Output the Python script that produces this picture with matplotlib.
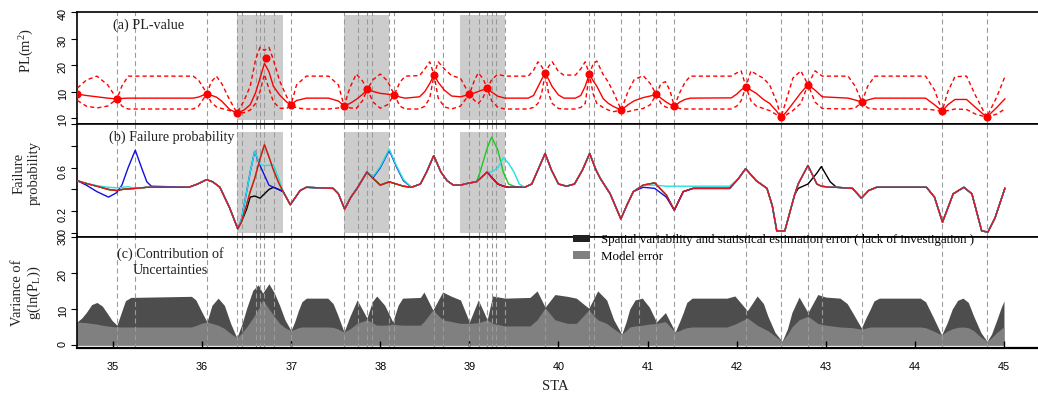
import matplotlib
matplotlib.use('Agg')
import matplotlib.pyplot as plt
from matplotlib.patches import Patch

plt.rcParams['font.family'] = 'Liberation Serif'
plt.rcParams['mathtext.fontset'] = 'custom'
plt.rcParams['mathtext.rm'] = 'Liberation Serif'
plt.rcParams['mathtext.it'] = 'Liberation Serif:italic'

# ---------------- data ----------------
obs_sta = [35.045, 35.247, 36.055, 36.392, 36.448, 36.605, 36.650, 36.695, 36.807, 36.998,
           37.593, 37.750, 37.851, 37.907, 38.098, 38.154, 38.603, 38.704, 38.996, 39.108,
           39.198, 39.254, 39.299, 39.400, 39.848, 40.342, 40.398, 40.701, 40.903, 41.094,
           41.291, 42.104, 42.497, 42.800, 42.957, 43.406, 44.304, 44.809]
shade_start = [36.39, 37.595, 38.898]
shade_end = [36.905, 38.10, 39.40]

# (a) PL-value
sta_a = [34.60, 34.70, 34.82, 34.94, 35.045, 35.10, 35.17, 35.90, 35.96, 36.055,
         36.10, 36.16, 36.22, 36.31, 36.392, 36.47, 36.54, 36.60, 36.65, 36.70,
         36.75, 36.80, 36.87, 36.95, 36.998, 37.06, 37.17, 37.42, 37.53, 37.593,
         37.66, 37.73, 37.80, 37.854, 37.92, 38.00, 38.08, 38.157, 38.22, 38.28,
         38.44, 38.50, 38.555, 38.603, 38.65, 38.72, 38.80, 38.90, 38.999, 39.06,
         39.10, 39.15, 39.201, 39.25, 39.32, 39.40, 39.66, 39.72, 39.77, 39.81,
         39.852, 39.89, 39.93, 40.00, 40.06, 40.19, 40.25, 40.30, 40.346, 40.39,
         40.43, 40.50, 40.56, 40.62, 40.705, 40.78, 40.85, 40.95, 41.03, 41.098,
         41.15, 41.20, 41.25, 41.30, 41.36, 41.42, 41.48, 41.94, 42.00, 42.05,
         42.104, 42.16, 42.22, 42.30, 42.37, 42.45, 42.497, 42.55, 42.63, 42.72,
         42.80, 42.88, 42.96, 43.25, 43.33, 43.406, 43.47, 43.55, 44.12, 44.22,
         44.307, 44.37, 44.45, 44.58, 44.68, 44.806, 44.92, 45.01]
pl_mean = [9.0, 8.5, 8.0, 7.5, 7.2, 7.4, 7.5, 7.5, 7.9, 9.2,
           8.6, 7.9, 6.4, 3.2, 1.9, 3.0, 5.0, 9.5, 15.0, 20.6,
           17.5, 12.0, 8.7, 6.0, 5.0, 6.6, 7.5, 7.5, 6.4, 4.6,
           5.5, 7.0, 8.9, 10.8, 10.0, 9.3, 9.0, 8.8, 7.9, 7.5,
           8.0, 10.0, 13.0, 16.3, 13.5, 10.5, 8.3, 8.0, 8.9, 9.5,
           10.0, 10.6, 11.2, 9.8, 8.2, 7.5, 7.5, 8.5, 11.8, 14.5,
           17.0, 14.5, 11.8, 8.7, 7.5, 7.5, 8.5, 12.0, 16.6, 14.0,
           12.0, 7.4, 5.5, 4.3, 3.0, 5.0, 6.5, 7.7, 8.3, 8.9,
           7.5, 6.2, 5.2, 4.4, 6.0, 7.0, 7.5, 7.6, 9.0, 10.6,
           11.8, 10.5, 9.3, 7.0, 5.5, 2.5, 0.3, 2.0, 5.5, 9.5,
           12.6, 10.5, 8.0, 7.5, 6.8, 6.0, 6.8, 7.5, 7.5, 5.0,
           2.6, 5.0, 7.0, 7.0, 4.0, 0.3, 4.0, 7.2]
pl_upper = [11.3, 14.3, 15.8, 12.5, 7.2, 12.1, 15.8, 15.8, 14.3, 9.2,
            13.5, 15.8, 13.0, 6.8, 1.9, 6.5, 12.0, 22.0, 26.7, 25.5,
            26.7, 22.0, 14.0, 8.0, 5.0, 12.5, 15.8, 15.8, 12.5, 4.6,
            11.5, 16.6, 14.0, 10.8, 14.5, 16.6, 14.0, 8.8, 13.5, 15.8,
            16.0, 18.5, 21.2, 16.3, 21.2, 18.5, 16.0, 15.0, 8.9, 14.5,
            17.0, 15.0, 11.2, 14.5, 16.5, 15.8, 15.8, 18.0, 21.2, 19.5,
            17.0, 19.5, 21.2, 17.5, 16.2, 16.2, 18.5, 21.2, 16.6, 20.5,
            21.5, 16.5, 13.5, 9.5, 3.0, 10.0, 14.5, 16.0, 13.0, 8.9,
            13.0, 13.7, 10.5, 4.4, 9.5, 13.5, 15.8, 15.8, 17.0, 17.8,
            11.8, 17.8, 16.5, 15.0, 12.5, 6.0, 0.3, 6.0, 15.0, 17.8,
            12.6, 17.8, 15.8, 15.8, 12.0, 6.0, 12.0, 15.8, 15.8, 10.6,
            2.6, 10.0, 15.6, 15.8, 8.5, 0.3, 8.0, 15.6]
pl_lower = [6.6, 4.5, 3.8, 4.5, 7.2, 4.5, 3.4, 3.4, 4.5, 9.2,
            6.0, 4.2, 3.6, 2.8, 1.9, 2.0, 3.0, 5.5, 10.0, 16.5,
            11.0, 6.2, 3.7, 3.6, 5.0, 3.8, 3.4, 3.4, 3.8, 4.6,
            3.8, 3.6, 6.5, 10.8, 6.0, 3.7, 5.0, 8.8, 4.5, 3.4,
            3.4, 4.5, 7.5, 16.3, 7.5, 4.2, 3.4, 4.5, 8.9, 6.5,
            5.5, 7.5, 11.2, 6.5, 4.0, 3.4, 3.4, 4.0, 5.5, 9.0,
            17.0, 9.0, 5.5, 3.6, 3.4, 3.4, 4.0, 5.5, 16.6, 9.0,
            5.5, 4.0, 3.0, 2.4, 3.0, 2.4, 3.0, 3.6, 5.0, 8.9,
            5.5, 4.2, 3.6, 4.4, 3.6, 3.4, 3.4, 3.4, 4.5, 6.5,
            11.8, 6.5, 4.5, 3.6, 2.8, 1.2, 0.3, 1.0, 2.8, 5.5,
            12.6, 6.0, 3.6, 3.4, 3.8, 6.0, 3.8, 3.4, 3.4, 3.0,
            2.6, 2.8, 3.4, 3.2, 1.5, 0.3, 1.5, 3.4]
dot_sta = [34.60, 35.045, 36.055, 36.392, 36.714, 36.998, 37.593, 37.854, 38.157, 38.603,
           38.999, 39.201, 39.852, 40.346, 40.705, 41.098, 41.30, 42.104, 42.497, 42.80,
           43.406, 44.307, 44.806]
dot_pl = [9.0, 7.2, 9.2, 1.9, 22.6, 5.0, 4.6, 10.8, 8.8, 16.3,
          8.9, 11.2, 17.0, 16.6, 3.0, 8.9, 4.4, 11.8, 0.3, 12.6,
          6.0, 2.6, 0.3]

# (b) Failure probability
sta_b = [34.60, 34.70, 34.82, 34.95, 35.04, 35.10, 35.17, 35.25, 35.32, 35.38,
         35.43, 35.85, 35.95, 36.05, 36.12, 36.20, 36.31, 36.40, 36.44, 36.50,
         36.54, 36.59, 36.65, 36.70, 36.75, 36.80, 36.86, 36.91, 36.99, 37.10,
         37.17, 37.47, 37.53, 37.60, 37.67, 37.74, 37.85, 37.92, 38.00, 38.10,
         38.18, 38.26, 38.35, 38.45, 38.52, 38.60, 38.68, 38.75, 38.82, 38.90,
         39.00, 39.08, 39.12, 39.20, 39.25, 39.32, 39.38, 39.44, 39.50, 39.56,
         39.62, 39.70, 39.77, 39.85, 39.92, 40.00, 40.09, 40.18, 40.27, 40.35,
         40.42, 40.47, 40.58, 40.70, 40.77, 40.84, 40.95, 41.08, 41.21, 41.30,
         41.40, 41.51, 41.92, 42.02, 42.10, 42.22, 42.34, 42.40, 42.45, 42.54,
         42.65, 42.69, 42.80, 42.90, 42.95, 43.05, 43.12, 43.30, 43.40, 43.48,
         43.57, 44.13, 44.22, 44.31, 44.43, 44.55, 44.64, 44.75, 44.82, 44.90,
         45.01]
pf_red = [0.48, 0.455, 0.43, 0.40, 0.39, 0.40, 0.405, 0.41, 0.415, 0.42,
          0.42, 0.42, 0.45, 0.49, 0.47, 0.42, 0.23, 0.04, 0.10, 0.26,
          0.38, 0.50, 0.68, 0.81, 0.70, 0.58, 0.46, 0.38, 0.26, 0.39,
          0.42, 0.41, 0.36, 0.22, 0.33, 0.41, 0.56, 0.50, 0.44, 0.47,
          0.45, 0.43, 0.42, 0.45, 0.56, 0.71, 0.56, 0.48, 0.44, 0.44,
          0.46, 0.47, 0.50, 0.56, 0.51, 0.45, 0.43, 0.42, 0.42, 0.42,
          0.42, 0.45, 0.58, 0.73, 0.58, 0.45, 0.43, 0.45, 0.58, 0.73,
          0.58, 0.50, 0.36, 0.13, 0.26, 0.38, 0.44, 0.46, 0.35, 0.21,
          0.38, 0.41, 0.41, 0.50, 0.59, 0.48, 0.41, 0.25, 0.02, 0.02,
          0.35, 0.45, 0.62, 0.45, 0.43, 0.42, 0.42, 0.41, 0.32, 0.39,
          0.42, 0.42, 0.33, 0.10, 0.36, 0.42, 0.36, 0.02, 0.01, 0.14,
          0.41]
pf_black_diff = {36.44: 0.10, 36.50: 0.22, 36.54: 0.33, 36.59: 0.34, 36.65: 0.32,
                 36.70: 0.36, 36.75: 0.40, 36.80: 0.42, 36.86: 0.40,
                 42.69: 0.41, 42.80: 0.45, 42.90: 0.55, 42.95: 0.61, 43.05: 0.47}
pf_blue_diff = {34.70: 0.44, 34.82: 0.38, 34.95: 0.33, 35.04: 0.37, 35.10: 0.44,
                35.17: 0.60, 35.25: 0.76, 35.32: 0.60, 35.38: 0.47, 35.43: 0.43,
                36.44: 0.12, 36.50: 0.38, 36.54: 0.56, 36.59: 0.75, 36.65: 0.62,
                36.70: 0.53, 36.75: 0.44, 36.80: 0.42, 36.86: 0.40,
                37.92: 0.51, 38.00: 0.60, 38.10: 0.76, 38.18: 0.61, 38.26: 0.48,
                40.95: 0.42, 41.08: 0.41, 41.21: 0.33}
pf_cyan_diff = {34.82: 0.435, 34.95: 0.42, 35.04: 0.415, 35.10: 0.42, 35.17: 0.425,
                36.44: 0.12, 36.50: 0.38, 36.54: 0.56, 36.59: 0.75, 36.65: 0.63,
                36.70: 0.62, 36.75: 0.62, 36.80: 0.63, 36.86: 0.50,
                37.92: 0.52, 38.00: 0.61, 38.10: 0.77, 38.18: 0.62, 38.26: 0.49,
                39.25: 0.56, 39.32: 0.60, 39.38: 0.69, 39.44: 0.64, 39.50: 0.56,
                39.56: 0.45, 40.95: 0.44, 41.08: 0.44, 41.21: 0.43, 41.30: 0.43,
                41.40: 0.43, 41.51: 0.43, 41.92: 0.43}
pf_green_diff = {39.12: 0.56, 39.20: 0.78, 39.25: 0.88, 39.32: 0.76, 39.38: 0.56,
                 39.44: 0.45, 39.50: 0.43}

# (c) Contribution of uncertainties
sta_c = [34.596, 34.65, 34.70, 34.76, 34.82, 34.88, 34.93, 34.99, 35.045, 35.10,
         35.14, 35.20, 35.88, 35.93, 35.99, 36.055, 36.11, 36.18, 36.25, 36.32,
         36.39, 36.45, 36.50, 36.57, 36.63, 36.68, 36.75, 36.81, 36.87, 36.93,
         36.998, 37.04, 37.08, 37.12, 37.17, 37.41, 37.47, 37.52, 37.593, 37.66,
         37.74, 37.85, 37.91, 37.96, 38.05, 38.14, 38.20, 38.25, 38.45, 38.49,
         38.59, 38.70, 38.80, 38.90, 39.00, 39.10, 39.20, 39.26, 39.40, 39.68,
         39.76, 39.85, 39.96, 40.10, 40.20, 40.34, 40.44, 40.54, 40.62, 40.71,
         40.76, 40.80, 40.86, 40.94, 41.02, 41.10, 41.20, 41.31, 41.36, 41.40,
         41.44, 41.50, 41.89, 41.98, 42.12, 42.23, 42.30, 42.35, 42.43, 42.51,
         42.57, 42.62, 42.70, 42.80, 42.91, 43.00, 43.16, 43.24, 43.30, 43.40,
         43.45, 43.50, 43.54, 43.60, 44.06, 44.12, 44.20, 44.30, 44.36, 44.42,
         44.48, 44.54, 44.60, 44.66, 44.74, 44.81, 44.86, 44.92, 44.97, 45.00]
var_total = [6.4, 7.5, 9.0, 11.2, 11.8, 10.8, 9.0, 6.8, 5.5, 9.5,
             12.3, 13.2, 13.5, 12.5, 9.5, 6.4, 11.0, 13.0, 11.0, 6.0,
             2.0, 6.0, 10.2, 15.2, 16.7, 14.4, 17.0, 14.5, 11.0, 7.0,
             4.0, 6.5, 9.5, 12.0, 13.0, 13.0, 11.5, 8.5, 3.6, 8.0,
             12.5, 7.5, 12.0, 13.6, 11.0, 6.4, 11.0, 13.0, 13.2, 14.7,
             9.7, 14.7, 13.5, 12.5, 6.4, 12.5, 7.0, 13.6, 13.0, 13.2,
             15.0, 10.5, 14.0, 13.5, 13.0, 10.2, 15.0, 12.5, 7.0, 3.0,
             6.5, 10.0, 12.5, 13.0, 10.5, 6.4, 9.0, 3.6, 6.5, 9.0,
             11.8, 13.0, 13.0, 13.6, 9.5, 13.6, 11.5, 8.0, 3.5, 1.0,
             4.5, 9.0, 13.3, 9.0, 14.0, 13.3, 13.0, 11.5, 9.0, 4.7,
             7.5, 10.0, 12.2, 13.0, 13.0, 12.0, 8.0, 2.8, 6.0, 10.0,
             12.4, 13.0, 11.8, 8.0, 3.5, 1.0, 3.0, 7.0, 10.5, 12.2]
var_model = [6.4, 6.3, 6.2, 6.0, 5.8, 5.5, 5.3, 5.1, 5.0, 5.0,
             5.0, 5.0, 5.0, 5.4, 6.0, 6.4, 6.0, 5.5, 4.6, 3.2,
             2.0, 3.5, 5.0, 7.5, 10.0, 12.5, 10.0, 8.0, 6.0, 4.8,
             4.0, 4.4, 4.8, 5.0, 5.0, 5.0, 4.9, 4.5, 3.6, 4.5,
             6.0, 7.0, 6.2, 5.5, 5.5, 5.8, 5.6, 5.5, 5.5, 6.5,
             9.7, 7.0, 6.5, 6.0, 6.0, 6.2, 7.0, 6.0, 5.3, 5.3,
             7.0, 10.3, 7.0, 6.0, 6.0, 9.7, 7.0, 6.0, 4.5, 3.0,
             4.0, 5.0, 5.3, 5.5, 5.8, 6.0, 6.5, 3.6, 4.0, 4.5,
             4.8, 5.0, 5.0, 5.8, 7.5, 5.5, 4.6, 4.0, 2.5, 1.0,
             3.0, 5.0, 7.0, 8.0, 6.0, 5.5, 5.0, 4.9, 4.8, 4.4,
             4.7, 5.0, 5.0, 5.0, 5.0, 4.8, 4.0, 2.8, 3.8, 4.5,
             4.9, 5.0, 4.8, 4.0, 2.2, 1.0, 2.0, 3.5, 4.5, 5.0]

xticks_c = [35, 36, 37, 38, 39, 40, 41, 42, 43, 44, 45]
legend_labels = ['Spatial variability and statistical estimation error ( lack of investigation )',
                 'Model error']

# ---------------- figure ----------------
W, H = 1038, 396
fig = plt.figure(figsize=(W / 100, H / 100), dpi=100)


def ax_at(top, bottom):
    return fig.add_axes([77 / W, 1 - bottom / H, (1043 - 77) / W, (bottom - top) / H])


axa = ax_at(12, 124)
axb = ax_at(124, 236.5)
axc = ax_at(236.5, 348)
XL = (34.596, 45.438)
VCOL = '#9a9a9a'
SHADE = '#cccccc'
TXT = '#222222'

for ax in (axa, axb, axc):
    ax.set_xlim(*XL)
    for s in ax.spines.values():
        s.set_linewidth(1.2)
    ax.tick_params(axis='y', direction='out', length=4, width=0.8, labelsize=7.8,
                   pad=2.5, labelrotation=90, labelfontfamily='Liberation Sans')
    for x in obs_sta:
        ax.axvline(x, color=VCOL, lw=0.8, ls=(0, (4.5, 3)), zorder=2)

for ax in (axa, axb):
    ax.tick_params(axis='x', bottom=False, labelbottom=False)

# (a)
axa.set_ylim(-2.26, 40)
for s0, s1 in zip(shade_start, shade_end):
    axa.fill_between([s0, s1], -0.75, 38.9, color=SHADE, lw=0, zorder=0)
axa.plot(sta_a, pl_upper, color='red', lw=1.0, ls=(0, (3.0, 2.2)), zorder=3)
axa.plot(sta_a, pl_lower, color='red', lw=1.0, ls=(0, (3.0, 2.2)), zorder=3)
axa.plot(sta_a, pl_mean, color='red', lw=1.0, zorder=3)
axa.plot(dot_sta, dot_pl, 'o', color='red', ms=4.8, zorder=4)
axa.set_yticks([0, 10, 20, 30, 40])
axa.set_yticklabels(['0', '10', '20', '30', '40'])
axa.text(0.0373, 0.884, '(a) PL-value', transform=axa.transAxes, fontsize=10.2,
         va='center', ha='left', color=TXT)

# (b)
axb.set_ylim(-0.031, 0.965)
for s0, s1 in zip(shade_start, shade_end):
    axb.fill_between([s0, s1], 0.0, 0.927, color=SHADE, lw=0, zorder=0)


def series(diff):
    return [diff.get(x, v) for x, v in zip(sta_b, pf_red)]


axb.plot(sta_b, series(pf_black_diff), color='black', lw=1.0, zorder=3)
axb.plot(sta_b, series(pf_green_diff), color='#1ec81e', lw=1.0, zorder=3)
axb.plot(sta_b, series(pf_blue_diff), color='#1010e0', lw=1.0, zorder=3)
axb.plot(sta_b, series(pf_cyan_diff), color='#20e0e0', lw=1.0, zorder=3)
axb.plot(sta_b, pf_red, color='#e8101e', lw=1.0, zorder=4)
axb.set_yticks([0, 0.2, 0.4, 0.6, 0.8, 1.0])
axb.set_yticklabels(['0', '0.2', '', '0.6', '', '1'])
axb.text(0.0331, 0.884, '(b) Failure probability', transform=axb.transAxes, fontsize=10.2,
         va='center', ha='left', color=TXT)

# (c)
axc.set_ylim(-0.83, 30.1)
axc.fill_between(sta_c, 0, var_total, color='#4d4d4d', lw=0, zorder=1)
axc.fill_between(sta_c, 0, var_model, color='#808080', lw=0, zorder=1)
axc.set_yticks([0, 10, 20, 30])
axc.set_yticklabels(['0', '10', '20', '30'])
axc.set_xticks(xticks_c)
axc.set_xticklabels([str(t) for t in xticks_c])
axc.tick_params(axis='x', direction='in', length=5, width=1.0, labelsize=7.8, pad=10,
                labelfontfamily='Liberation Sans')
axc.spines['bottom'].set_linewidth(1.6)
axc.text(0.0963, 0.771, '(c) Contribution of\nUncertainties', transform=axc.transAxes,
         fontsize=10.2, va='center', ha='center', multialignment='center',
         linespacing=1.25, color=TXT)

fig.legend([Patch(facecolor='#222222', edgecolor='none'),
            Patch(facecolor='#808080', edgecolor='none')],
           legend_labels, loc='upper left', bbox_to_anchor=(573 / W, 1 - 234 / H),
           frameon=False, fontsize=9.3, handlelength=1.35, handleheight=0.55,
           handletextpad=0.8, labelspacing=0.38, borderpad=0, borderaxespad=0)

fig.text(27 / W, 1 - 50 / H, 'PL(m$^2$)', rotation=90, ha='center', va='center',
         fontsize=10.5, color=TXT)
fig.text(27 / W, 1 - 173 / H, 'Failure\nprobability', rotation=90, ha='center',
         va='center', fontsize=10.5, linespacing=1.2, multialignment='center', color=TXT)
fig.text(27 / W, 1 - 293 / H, 'Variance of\ng(ln(P$_\\mathrm{L}$))', rotation=90,
         ha='center', va='center', fontsize=10.5, linespacing=1.2,
         multialignment='center', color=TXT)
fig.text(555 / W, 1 - 386 / H, 'STA', ha='center', va='center', fontsize=10.5, color=TXT)

fig.savefig('out.png', dpi=100)
